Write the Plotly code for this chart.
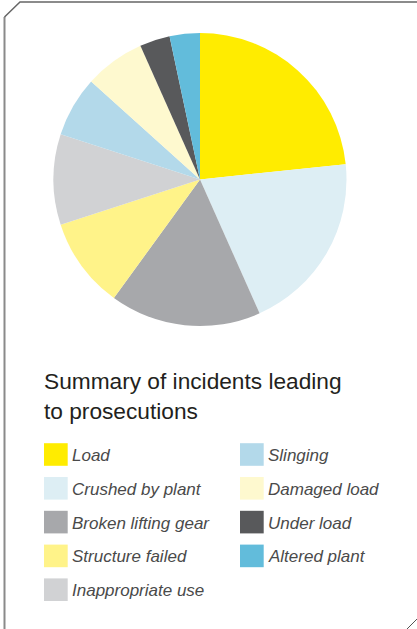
import plotly.graph_objects as go

W, H = 417, 629

# ---- data ----
categories = ["Load", "Crushed by plant", "Broken lifting gear", "Structure failed",
              "Inappropriate use", "Slinging", "Damaged load", "Under load", "Altered plant"]
values = [7, 6, 5, 3, 3, 2, 2, 1, 1]
colors = ["#FFEC00", "#DDEEF4", "#A7A8AB", "#FFF389", "#D1D2D4",
          "#B3D9EA", "#FEF9CF", "#58595B", "#62BCDB"]
title_text = "Summary of incidents leading<br>to prosecutions"

# legend layout (two columns)
legend_col1 = categories[:5]
legend_col2 = categories[5:]


def px(x):
    return x / W


def py(y):
    return 1 - y / H


fig = go.Figure()
cx, cy, r = 200, 179.5, 146.5
fig.add_trace(go.Pie(
    labels=categories, values=values, sort=False, direction="clockwise", rotation=0,
    marker=dict(colors=colors, line=dict(width=0)),
    textinfo="none", hoverinfo="label+value", showlegend=False,
    domain=dict(x=[px(cx - r), px(cx + r)], y=[py(cy + r), py(cy - r)]),
))

shapes = []
annotations = []

# frame with cut corners
shapes.append(dict(type="line", xref="paper", yref="paper",
                   x0=px(4.5), y0=py(17), x1=px(4.5), y1=py(H + 5),
                   line=dict(color="#8a8a8a", width=2)))
shapes.append(dict(type="path", xref="paper", yref="paper",
                   path=f"M {px(4.5)},{py(17)} L {px(20)},{py(2)} L {px(W + 5)},{py(2)}",
                   line=dict(color="#666666", width=1.5)))
shapes.append(dict(type="line", xref="paper", yref="paper",
                   x0=px(406), y0=py(630), x1=px(418), y1=py(618),
                   line=dict(color="#555555", width=1)))

# title
annotations.append(dict(xref="paper", yref="paper", x=px(42), y=py(366),
                        xanchor="left", yanchor="top", align="left", showarrow=False,
                        text=title_text,
                        font=dict(family="Liberation Sans, Arial, sans-serif", size=22.7, color="#231F20")))

# legend
row0, dy = 454.5, 33.8
cols = [(44, legend_col1), (240, legend_col2)]
for x0, items in cols:
    for i, name in enumerate(items):
        idx = categories.index(name)
        yc = row0 + i * dy
        shapes.append(dict(type="rect", xref="paper", yref="paper",
                           x0=px(x0), x1=px(x0 + 23.7), y0=py(yc + 11.3), y1=py(yc - 11.3),
                           fillcolor=colors[idx], line=dict(width=0)))
        annotations.append(dict(xref="paper", yref="paper", x=px(x0 + 26), y=py(yc + 1),
                                xanchor="left", yanchor="middle", showarrow=False,
                                text=f"<i>{name}</i>",
                                font=dict(family="Liberation Sans, Arial, sans-serif", size=17, color="#4a4a4a")))

fig.update_layout(
    width=W, height=H, margin=dict(l=0, r=0, t=0, b=0),
    paper_bgcolor="white", plot_bgcolor="white",
    shapes=shapes, annotations=annotations,
)

fig.write_html("out.html", config={"displayModeBar": False},
               post_script="document.body.style.margin='0px';document.body.style.overflow='hidden';")
